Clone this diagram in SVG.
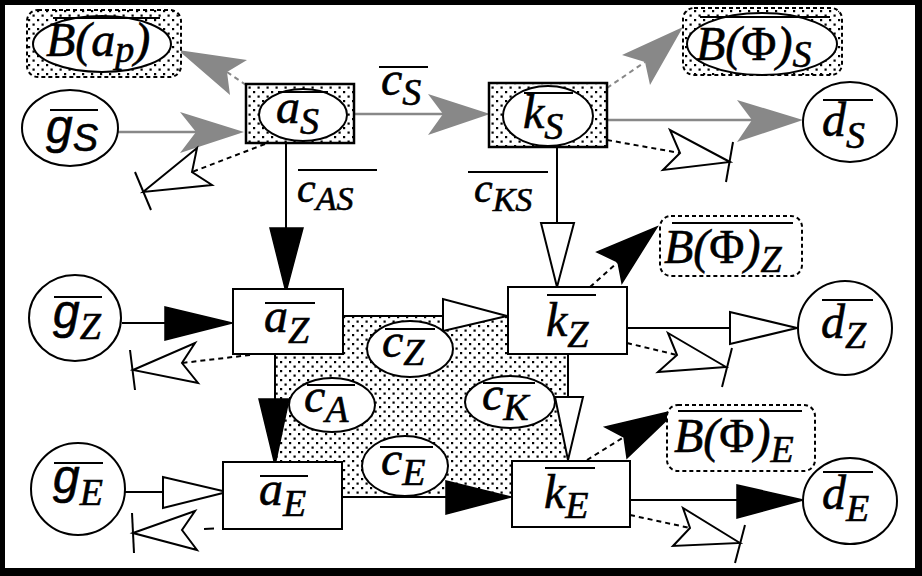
<svg xmlns="http://www.w3.org/2000/svg" width="922" height="576" viewBox="0 0 922 576">
<defs>
<pattern id="dots" width="9" height="9" patternUnits="userSpaceOnUse">
<rect width="9" height="9" fill="#fff"/>
<rect x="1" y="1" width="2.2" height="2.2" fill="#000"/>
<rect x="5.5" y="5.5" width="2.2" height="2.2" fill="#000"/>
</pattern>
<style>
.ln{stroke:#000;stroke-width:2;fill:none}
.gln{stroke:#888;stroke-width:2.5;fill:none}
.dsh{stroke:#000;stroke-width:2;fill:none;stroke-dasharray:5 4}
.gdsh{stroke:#888;stroke-width:2;fill:none;stroke-dasharray:5 4}
.ga{fill:#888;stroke:none}
.ba{fill:#000;stroke:#000;stroke-width:1.5;stroke-linejoin:miter}
.wa{fill:#fff;stroke:#000;stroke-width:2;stroke-linejoin:miter}
.tick{stroke:#000;stroke-width:2}
.box{fill:#fff;stroke:#000;stroke-width:2}
.dbox{fill:url(#dots);stroke:#000;stroke-width:2.5}
.dround{fill:url(#dots);stroke:#000;stroke-width:2;stroke-dasharray:4 3}
.wround{fill:#fff;stroke:#000;stroke-width:2;stroke-dasharray:4 3}
.ell{fill:#fff;stroke:#000;stroke-width:2}
.ov{stroke:#000;stroke-width:2}
.t{font-family:"Liberation Serif","Times New Roman",serif;font-style:italic;font-size:48px;fill:#000;stroke:#000;stroke-width:0.6}
.ts{font-size:38px}
.tg{font-family:"Liberation Sans",Arial,sans-serif;font-style:italic}
.up{font-style:normal}
</style>
</defs>
<rect x="0" y="0" width="922" height="576" fill="#000"/>
<rect x="5" y="5" width="910" height="563" fill="#fff"/>
<rect id="center-area" x="275" y="316" width="293" height="181" fill="url(#dots)"/>

<g id="connectors">
<line class="gln" x1="118" y1="132" x2="198" y2="132"/>
<polygon class="ga" points="244,132 180,112 196,132 180,153"/>
<line class="gln" x1="354" y1="114" x2="445" y2="114"/>
<polygon class="ga" points="490,114 428,94 443,114 428,135"/>
<line class="gln" x1="607" y1="120" x2="754" y2="120"/>
<polygon class="ga" points="803,120 737,100 752,120 737,142"/>
<line class="gdsh" x1="246" y1="85" x2="227" y2="72"/>
<polygon class="ga" points="178,50 247,60 227,72 230,95"/>
<line class="gdsh" x1="607" y1="88" x2="645" y2="62"/>
<polygon class="ga" points="683,27 622,55 645,62 650,85"/>
<line class="dsh" x1="265" y1="144" x2="192" y2="172"/>
<polygon class="wa" points="143,192 197,148 192,172 212,185"/>
<line class="tick" x1="135" y1="172" x2="151" y2="210"/>
<line class="dsh" x1="607" y1="140" x2="680" y2="153"/>
<polygon class="wa" points="730,162 670,130 680,153 663,170"/>
<line class="tick" x1="733" y1="142" x2="726" y2="182"/>
<line class="dsh" x1="250" y1="355" x2="182" y2="363"/>
<polygon class="wa" points="133,370 195,343 182,363 198,383"/>
<line class="tick" x1="130" y1="350" x2="135" y2="390"/>
<line class="dsh" x1="627" y1="343" x2="677" y2="355"/>
<polygon class="wa" points="726,367 668,333 677,355 658,372"/>
<line class="tick" x1="732" y1="348" x2="722" y2="387"/>
<line class="ln" x1="250" y1="527" x2="182" y2="530" style="stroke-dasharray:10 26"/>
<polygon class="wa" points="133,533 195,511 182,530 197,550"/>
<line class="tick" x1="132" y1="513" x2="134" y2="553"/>
<line class="dsh" x1="630" y1="515" x2="690" y2="528"/>
<polygon class="wa" points="740,543 683,508 690,528 673,546"/>
<line class="tick" x1="745" y1="525" x2="735" y2="563"/>
<line class="ln" x1="286" y1="143" x2="286" y2="230"/>
<polygon class="ba" points="270,228 303,228 286,292"/>
<line class="ln" x1="122" y1="323" x2="167" y2="323"/>
<polygon class="ba" points="165,307 165,340 232,323"/>
<line class="ln" x1="275" y1="354" x2="275" y2="401"/>
<polygon class="ba" points="259,399 289,399 275,465"/>
<line class="ln" x1="342" y1="497" x2="448" y2="497"/>
<polygon class="ba" points="446,481 446,514 511,497"/>
<line class="ln" x1="630" y1="500" x2="739" y2="500"/>
<polygon class="ba" points="737,485 737,518 803,500"/>
<line class="ln" x1="557" y1="147" x2="557" y2="223"/>
<polygon class="wa" points="541,223 574,223 557,287"/>
<line class="ln" x1="343" y1="316" x2="443" y2="316"/>
<polygon class="wa" points="443,299 443,331 507,316"/>
<line class="ln" x1="627" y1="328" x2="730" y2="328"/>
<polygon class="wa" points="730,312 730,344 797,328"/>
<line class="ln" x1="568" y1="354" x2="568" y2="397"/>
<polygon class="wa" points="555,397 583,397 568,460"/>
<line class="ln" x1="125" y1="492" x2="163" y2="492"/>
<polygon class="wa" points="163,477 163,508 227,492"/>
<line class="dsh" x1="590" y1="287" x2="618" y2="262"/>
<polygon class="ba" points="657,227 597,252 618,262 622,283"/>
<line class="dsh" x1="587" y1="460" x2="624" y2="437"/>
<polygon class="ba" points="677,410 605,427 624,437 627,458"/>
</g>

<g id="label-cS">
<line class="ov" x1="379" y1="67" x2="428" y2="67"/>
<text class="t" x="381" y="95">c<tspan class="ts" dy="10">S</tspan></text>
</g>
<g id="label-cAS">
<line class="ov" x1="298" y1="170" x2="377" y2="170"/>
<text class="t" x="297" y="202" style="font-size:42px">c<tspan style="font-size:34px" dy="8">AS</tspan></text>
</g>
<g id="label-cKS">
<line class="ov" x1="468" y1="172" x2="548" y2="172"/>
<text class="t" x="474" y="202" style="font-size:42px">c<tspan style="font-size:34px" dy="9">KS</tspan></text>
</g>

<g id="node-Bap">
<rect class="dround" x="27" y="10" width="154" height="67" rx="11"/>
<ellipse class="ell" cx="102" cy="44" rx="69" ry="28"/>
<line class="ov" x1="53" y1="18" x2="160" y2="18"/>
<text class="t" x="46" y="56">B(a<tspan class="ts" dy="6">p</tspan><tspan dy="-6">)</tspan></text>
</g>
<g id="node-BPhiS">
<rect class="dround" x="683" y="8" width="159" height="67" rx="11"/>
<ellipse class="ell" cx="762" cy="44" rx="75" ry="31"/>
<line class="ov" x1="700" y1="17" x2="830" y2="17"/>
<text class="t" x="696" y="60">B(<tspan class="up">Φ</tspan>)<tspan class="ts" dy="7">S</tspan></text>
</g>
<g id="node-gS">
<ellipse class="ell" cx="70" cy="128" rx="48" ry="38"/>
<line class="ov" x1="50" y1="110" x2="98" y2="110"/>
<text class="t" x="46" y="143"><tspan class="tg">g</tspan><tspan class="ts tg" dy="8">S</tspan></text>
</g>
<g id="node-aS">
<rect class="dbox" x="246" y="84" width="108" height="59"/>
<ellipse class="ell" cx="303" cy="115" rx="44" ry="26"/>
<line class="ov" x1="278" y1="92" x2="328" y2="92"/>
<text class="t" x="276" y="123">a<tspan class="ts" dy="11">S</tspan></text>
</g>
<g id="node-kS">
<rect class="dbox" x="489" y="83" width="118" height="64"/>
<ellipse class="ell" cx="548" cy="116" rx="45" ry="30"/>
<line class="ov" x1="524" y1="93" x2="573" y2="93"/>
<text class="t" x="523" y="128">k<tspan class="ts" dy="11">S</tspan></text>
</g>
<g id="node-dS">
<ellipse class="ell" cx="850" cy="122" rx="47" ry="40"/>
<line class="ov" x1="823" y1="100" x2="873" y2="100"/>
<text class="t" x="822" y="136">d<tspan class="ts" dy="12">S</tspan></text>
</g>
<g id="node-gZ">
<ellipse class="ell" cx="75" cy="318" rx="46" ry="43"/>
<line class="ov" x1="54" y1="297" x2="102" y2="297"/>
<text class="t" x="53" y="328"><tspan class="tg">g</tspan><tspan class="ts" dy="11">Z</tspan></text>
</g>
<g id="node-aZ">
<rect class="box" x="233" y="289" width="110" height="65"/>
<line class="ov" x1="265" y1="303" x2="315" y2="303"/>
<text class="t" x="264" y="332">a<tspan class="ts" dy="11">Z</tspan></text>
</g>
<g id="node-kZ">
<rect class="box" x="508" y="287" width="119" height="67"/>
<line class="ov" x1="547" y1="295" x2="596" y2="295"/>
<text class="t" x="546" y="336">k<tspan class="ts" dy="11">Z</tspan></text>
</g>
<g id="node-BPhiZ">
<rect class="wround" x="660" y="216" width="142" height="60" rx="11"/>
<line class="ov" x1="672" y1="223" x2="793" y2="223"/>
<text class="t" x="664" y="263">B(<tspan class="up">Φ</tspan>)<tspan class="ts" dy="9">Z</tspan></text>
</g>
<g id="node-dZ">
<ellipse class="ell" cx="845" cy="328" rx="47" ry="47"/>
<line class="ov" x1="822" y1="300" x2="873" y2="300"/>
<text class="t" x="821" y="338">d<tspan class="ts" dy="10">Z</tspan></text>
</g>
<g id="node-cZ">
<ellipse class="ell" cx="410" cy="349" rx="43" ry="28"/>
<line class="ov" x1="385" y1="329" x2="435" y2="329"/>
<text class="t" x="382" y="357">c<tspan class="ts" dy="8">Z</tspan></text>
</g>
<g id="node-cA">
<ellipse class="ell" cx="332" cy="405" rx="43" ry="27"/>
<line class="ov" x1="307" y1="385" x2="355" y2="385"/>
<text class="t" x="304" y="412">c<tspan class="ts" dy="10">A</tspan></text>
</g>
<g id="node-cK">
<ellipse class="ell" cx="510" cy="402" rx="45" ry="26"/>
<line class="ov" x1="483" y1="383" x2="535" y2="383"/>
<text class="t" x="482" y="410">c<tspan class="ts" dy="10">K</tspan></text>
</g>
<g id="node-cE">
<ellipse class="ell" cx="405" cy="466" rx="43" ry="30"/>
<line class="ov" x1="380" y1="447" x2="433" y2="447"/>
<text class="t" x="381" y="475">c<tspan class="ts" dy="10">E</tspan></text>
</g>
<g id="node-gE">
<ellipse class="ell" cx="78" cy="489" rx="47" ry="46"/>
<line class="ov" x1="54" y1="463" x2="103" y2="463"/>
<text class="t" x="53" y="493"><tspan class="tg">g</tspan><tspan class="ts" dy="12">E</tspan></text>
</g>
<g id="node-aE">
<rect class="box" x="223" y="462" width="119" height="67"/>
<line class="ov" x1="260" y1="476" x2="308" y2="476"/>
<text class="t" x="259" y="505">a<tspan class="ts" dy="11">E</tspan></text>
</g>
<g id="node-kE">
<rect class="box" x="512" y="461" width="118" height="66"/>
<line class="ov" x1="545" y1="468" x2="595" y2="468"/>
<text class="t" x="544" y="508">k<tspan class="ts" dy="10">E</tspan></text>
</g>
<g id="node-BPhiE">
<rect class="wround" x="667" y="405" width="148" height="66" rx="11"/>
<line class="ov" x1="678" y1="411" x2="802" y2="411"/>
<text class="t" x="674" y="452">B(<tspan class="up">Φ</tspan>)<tspan class="ts" dy="10">E</tspan></text>
</g>
<g id="node-dE">
<ellipse class="ell" cx="850" cy="501" rx="47" ry="43"/>
<line class="ov" x1="823" y1="472" x2="873" y2="472"/>
<text class="t" x="822" y="509">d<tspan class="ts" dy="12">E</tspan></text>
</g>
</svg>
